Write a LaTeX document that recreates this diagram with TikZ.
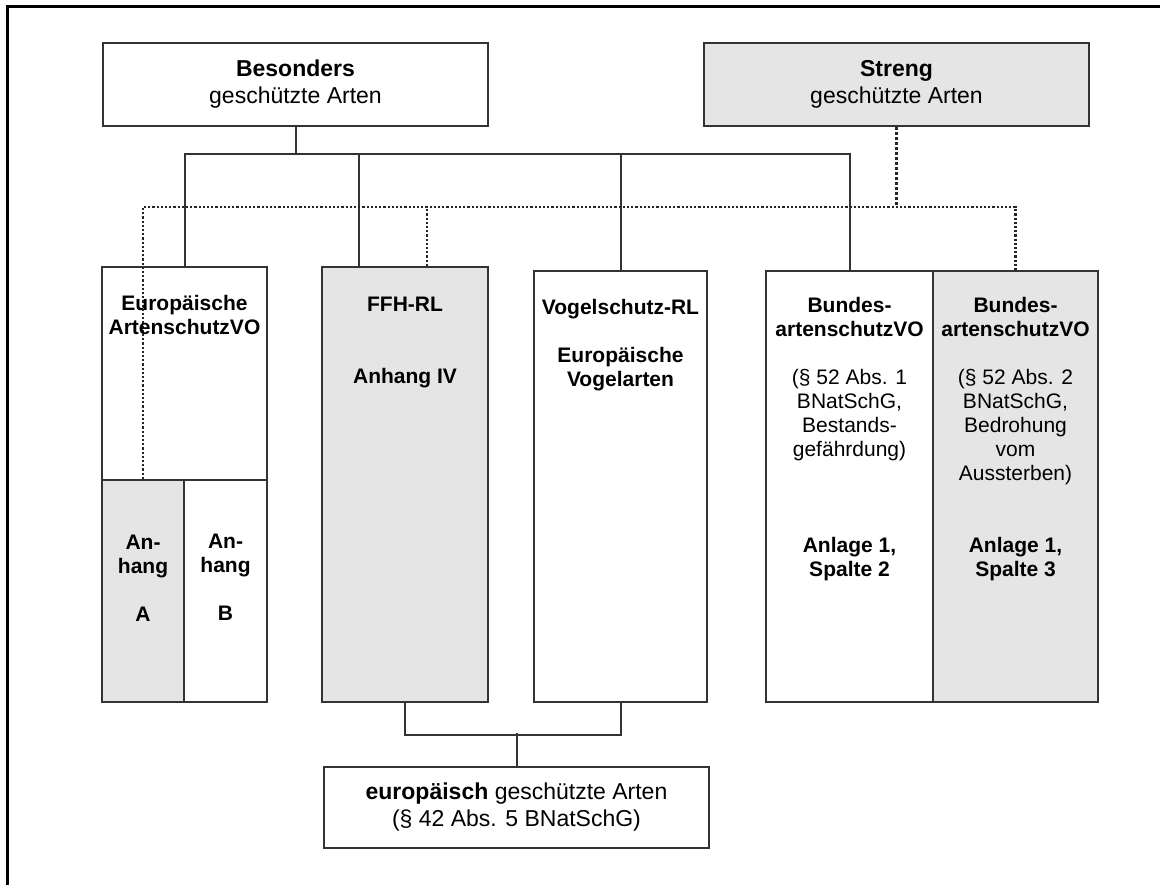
\documentclass[tikz,border=0pt]{standalone}
\usepackage{fontspec}
\setmainfont{Liberation Sans}
\usepackage{xcolor}
\usepackage{tikz}
\definecolor{boxgray}{gray}{0.9}
\definecolor{linegray}{gray}{0.2}

\begin{document}
\begin{tikzpicture}[x=0.5pt,y=-0.5pt,
  box/.style={rectangle,draw=linegray,line width=1pt,inner sep=0pt},
  greybox/.style={box,fill=boxgray},
  bigtxt/.style={align=center,font=\fontsize{11.5}{13.5}\selectfont},
  txt/.style={align=center,font=\fontsize{10.5}{12}\selectfont},
  link/.style={draw=linegray,line width=1pt},
  dotlink/.style={draw=black!85,line width=1.1pt,densely dotted},
  stronglink/.style={draw=black!85,line width=1.5pt,densely dotted}]
\useasboundingbox (0,0) rectangle (1160,885);
\draw[line width=1.5pt] (7,885) -- (7,6) -- (1160,6);

% top row
\node [box,minimum width=192.5pt,minimum height=41.5pt,bigtxt] at (295.5,84.5) (besonders) {\textbf{Besonders}\\geschützte Arten};
\node [greybox,minimum width=192.5pt,minimum height=41.5pt,bigtxt] at (896.5,84.5) (streng) {\textbf{Streng}\\geschützte Arten};

% columns
\node [box,minimum width=82.5pt,minimum height=106.5pt] at (184.5,373.5) (europ) {};
\node [greybox,minimum width=41pt,minimum height=111pt] at (143,591) (anhA) {};
\node [box,minimum width=41.5pt,minimum height=111pt] at (225.5,591) (anhB) {};
\node [greybox,minimum width=83pt,minimum height=217.5pt] at (405,484.5) (ffh) {};
\node [box,minimum width=86.5pt,minimum height=215.5pt] at (620.5,486.5) (vogel) {};
\node [box,minimum width=83.5pt,minimum height=215.5pt] at (849.5,486.5) (bund1) {};
\node [greybox,minimum width=82.5pt,minimum height=215.5pt] at (1015.5,486.5) (bund2) {};

% bottom
\node [box,minimum width=192.5pt,minimum height=40.5pt,bigtxt] at (516.5,807.5) (eur) {\textbf{europäisch} geschützte Arten\\(§ 42 Abs. 5 BNatSchG)};

\coordinate (bus) at (0,154);
\coordinate (dbus) at (0,207);

% besonders geschuetzt
\draw[link] (besonders.south) -- (besonders.south |- bus);
\draw[link] (europ.north) |- (bund1.north |- bus) -- (bund1.north);
\draw[link] ([xshift=-23pt]ffh.north) -- ([xshift=-23pt]ffh.north |- bus);
\draw[link] (vogel.north) -- (vogel.north |- bus);

% streng geschuetzt
\draw[stronglink] (streng.south) -- (streng.south |- dbus);
\draw[dotlink] (anhA.north) |- (bund2.north |- dbus) -- (bund2.north);
\draw[dotlink] ([xshift=11pt]ffh.north) -- ([xshift=11pt]ffh.north |- dbus);

% europaeisch geschuetzt
\draw[link] (ffh.south) -- ++(0,32) -| (vogel.south);
\draw[link] (eur.north) -- ++(0,-33);

% texts
\node [txt] at (184.5,314.5) (europtxt) {\textbf{Europäische}\\\textbf{ArtenschutzVO}};
\node [txt] at (143,578) (anhAtxt) {\textbf{An-}\\\textbf{hang}\\[12pt]\textbf{A}};
\node [txt] at (225.5,577) (anhBtxt) {\textbf{An-}\\\textbf{hang}\\[12pt]\textbf{B}};
\node [txt] at (405,342.5) (ffhtxt) {\textbf{FFH-RL}\\[24pt]\textbf{Anhang IV}};
\node [txt] at (620.5,345) (vogeltxt) {\textbf{Vogelschutz-RL}\\[12pt]\textbf{Europäische}\\\textbf{Vogelarten}};
\node [txt] at (849.5,439) (bund1txt) {\textbf{Bundes-}\\\textbf{artenschutzVO}\\[12pt](§ 52 Abs. 1\\BNatSchG,\\Bestands-\\gefährdung)\\[36pt]\textbf{Anlage 1,}\\\textbf{Spalte 2}};
\node [txt] at (1015.5,439) (bund2txt) {\textbf{Bundes-}\\\textbf{artenschutzVO}\\[12pt](§ 52 Abs. 2\\BNatSchG,\\Bedrohung\\vom\\Aussterben)\\[24pt]\textbf{Anlage 1,}\\\textbf{Spalte 3}};
\end{tikzpicture}
\end{document}
